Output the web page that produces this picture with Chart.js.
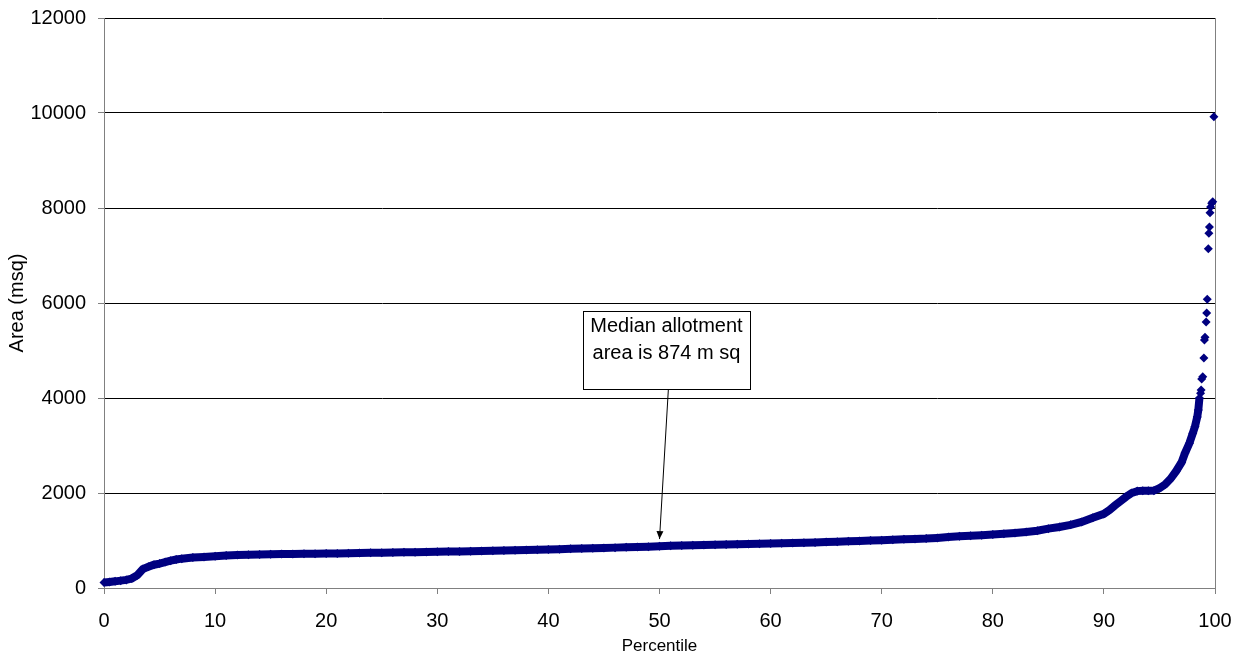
<!DOCTYPE html>
<html>
<head>
<meta charset="utf-8">
<script src="https://cdn.jsdelivr.net/npm/chart.js@4.4.1/dist/chart.umd.min.js"></script>
<style>
  html, body { margin: 0; padding: 0; background: #fff; }
  #wrap { width: 1244px; height: 660px; }
</style>
</head>
<body>
<div id="wrap"><canvas id="myChart" width="1244" height="660"></canvas></div>
<script>
// main body of the curve (percentile -> area in m sq)
const bodyPct = [0, 0.5, 1, 1.5, 2, 2.5, 3, 3.5, 4, 4.5, 5, 5.5, 6, 6.5,
  7, 8, 9, 10, 11, 12, 13, 14, 15, 16, 17, 18, 19, 20, 21, 22, 23, 24, 25, 26, 27, 28, 29,
  30, 31, 32, 33, 34, 35, 36, 37, 38, 39, 40, 41, 42, 43, 44, 45, 46, 47, 48, 49,
  50, 51, 52, 53, 54, 55, 56, 57, 58, 59, 60, 61, 62, 63, 64, 65, 66, 67, 68, 69,
  70, 71, 72, 73, 74, 75, 76, 77, 78, 79, 80, 81, 82, 83, 84, 85, 86, 87, 88, 89, 90,
  90.5, 91, 91.5, 92, 92.5, 93, 93.5, 94, 94.5, 95, 95.5, 96, 96.5, 97, 97.3, 97.7,
  98, 98.2, 98.4, 98.5, 98.6];
const bodyArea = [115, 128, 140, 155, 170, 200, 270, 400, 450, 490, 515, 545, 575, 600,
  618, 640, 655, 668, 682, 693, 700, 705, 710, 715, 718, 720, 722, 725, 728, 732, 736, 740, 744, 748, 752, 755, 758,
  762, 766, 770, 775, 780, 785, 790, 795, 800, 806, 812, 818, 825, 832, 838, 844, 850, 856, 862, 870,
  880, 888, 895, 900, 905, 910, 915, 920, 925, 930, 935, 942, 948, 954, 960, 968, 975, 982, 990, 998,
  1005, 1015, 1025, 1032, 1040, 1055, 1075, 1088, 1100, 1112, 1125, 1140, 1160, 1180, 1205, 1250, 1285, 1330, 1390, 1480, 1560,
  1640, 1740, 1830, 1920, 2000, 2040, 2045, 2045, 2050, 2100, 2180, 2300, 2460, 2650, 2840, 3050,
  3260, 3400, 3600, 3750, 4000];

// sparse largest allotments
const tailPct = [98.7, 98.75, 98.8, 98.9, 99.0, 99.05, 99.1, 99.2, 99.25, 99.3, 99.4, 99.45, 99.5, 99.55, 99.6, 99.7, 99.8, 99.9];
const tailArea = [4100, 4170, 4400, 4450, 4840, 5220, 5280, 5600, 5790, 6080, 7140, 7470, 7600, 7900, 8020, 8100, 8130, 9920];

const yTicks = [0, 2000, 4000, 6000, 8000, 10000, 12000];
const xTicks = [0, 10, 20, 30, 40, 50, 60, 70, 80, 90, 100];

const navy = '#000080';
const fontFam = "'Liberation Sans', Arial, sans-serif";

function toPoints(xs, ys) {
  return xs.map((x, i) => ({ x: x, y: ys[i] }));
}

// text box with arrow pointing at the median
const medianNote = {
  id: 'medianNote',
  afterDatasetsDraw(chart) {
    const ctx = chart.ctx;
    const xs = chart.scales.x;
    const ys = chart.scales.y;
    const left = xs.getPixelForValue(43.1);
    const right = xs.getPixelForValue(58.15);
    const top = ys.getPixelForValue(5832);
    const bottom = ys.getPixelForValue(4189);
    const ax0 = xs.getPixelForValue(50.8);
    const ay0 = bottom;
    const ax1 = xs.getPixelForValue(50);
    const ay1 = ys.getPixelForValue(1030);

    ctx.save();
    // arrow line
    ctx.strokeStyle = '#000';
    ctx.lineWidth = 1;
    ctx.beginPath();
    ctx.moveTo(ax0, ay0);
    ctx.lineTo(ax1, ay1);
    ctx.stroke();
    // arrow head
    const ang = Math.atan2(ay1 - ay0, ax1 - ax0);
    const len = 8, wid = 3.5;
    ctx.fillStyle = '#000';
    ctx.beginPath();
    ctx.moveTo(ax1, ay1);
    ctx.lineTo(ax1 - len * Math.cos(ang) + wid * Math.sin(ang), ay1 - len * Math.sin(ang) - wid * Math.cos(ang));
    ctx.lineTo(ax1 - len * Math.cos(ang) - wid * Math.sin(ang), ay1 - len * Math.sin(ang) + wid * Math.cos(ang));
    ctx.closePath();
    ctx.fill();
    // box
    ctx.fillStyle = '#fff';
    ctx.fillRect(left, top, right - left, bottom - top);
    ctx.strokeRect(Math.round(left) + 0.5, Math.round(top) + 0.5, Math.round(right - left), Math.round(bottom - top));
    // text
    ctx.fillStyle = '#000';
    ctx.font = '20px ' + fontFam;
    ctx.textAlign = 'center';
    ctx.textBaseline = 'middle';
    const cx = (left + right) / 2;
    ctx.fillText('Median allotment', cx, top + 16);
    ctx.fillText('area is 874 m sq', cx, top + 43);
    ctx.restore();
  }
};

const ctx = document.getElementById('myChart');

new Chart(ctx, {
  type: 'scatter',
  data: {
    datasets: [{
      label: 'Area',
      data: toPoints(bodyPct, bodyArea),
      showLine: true,
      borderColor: navy,
      backgroundColor: navy,
      borderWidth: 8,
      pointStyle: 'rectRot',
      pointRadius: 4.5,
      pointBorderWidth: 0,
      pointHoverRadius: 4.5,
      clip: false
    }, {
      label: 'Tail',
      data: toPoints(tailPct, tailArea),
      showLine: false,
      borderColor: navy,
      backgroundColor: navy,
      pointStyle: 'rectRot',
      pointRadius: 4.5,
      pointBorderWidth: 0,
      pointHoverRadius: 4.5,
      clip: false
    }]
  },
  options: {
    responsive: false,
    animation: false,
    layout: { padding: { left: 0, right: 29, top: 18, bottom: 0 } },
    plugins: {
      legend: { display: false },
      tooltip: { enabled: false }
    },
    scales: {
      x: {
        type: 'linear',
        min: 0,
        max: 100,
        afterBuildTicks: axis => { axis.ticks = xTicks.map(v => ({ value: v })); },
        afterFit: axis => {
          axis.height = 72;
          axis.paddingLeft = 0;
          axis.paddingRight = 0;
        },
        border: { color: '#808080', width: 1 },
        grid: {
          color: c => (c.tick && c.tick.value === 100) ? '#808080' : 'rgba(0,0,0,0)',
          tickColor: '#808080',
          tickLength: 6
        },
        ticks: {
          color: '#000',
          font: { family: fontFam, size: 20 },
          padding: 15,
          maxRotation: 0,
          callback: v => String(v)
        },
        title: {
          display: true,
          text: 'Percentile',
          color: '#000',
          font: { family: fontFam, size: 17 },
          padding: { top: 0, bottom: 3 }
        }
      },
      y: {
        type: 'linear',
        min: 0,
        max: 12000,
        afterBuildTicks: axis => { axis.ticks = yTicks.map(v => ({ value: v })); },
        afterFit: axis => {
          axis.width = 104;
          axis.paddingTop = 0;
          axis.paddingBottom = 0;
        },
        border: { color: '#808080', width: 1 },
        grid: {
          color: '#000',
          tickColor: '#808080',
          tickLength: 6
        },
        ticks: {
          color: '#000',
          font: { family: fontFam, size: 20 },
          padding: 12,
          callback: v => String(v)
        },
        title: {
          display: true,
          text: 'Area (msq)',
          color: '#000',
          font: { family: fontFam, size: 20 },
          padding: { top: 5, bottom: 0 }
        }
      }
    }
  },
  plugins: [medianNote]
});
</script>
</body>
</html>
